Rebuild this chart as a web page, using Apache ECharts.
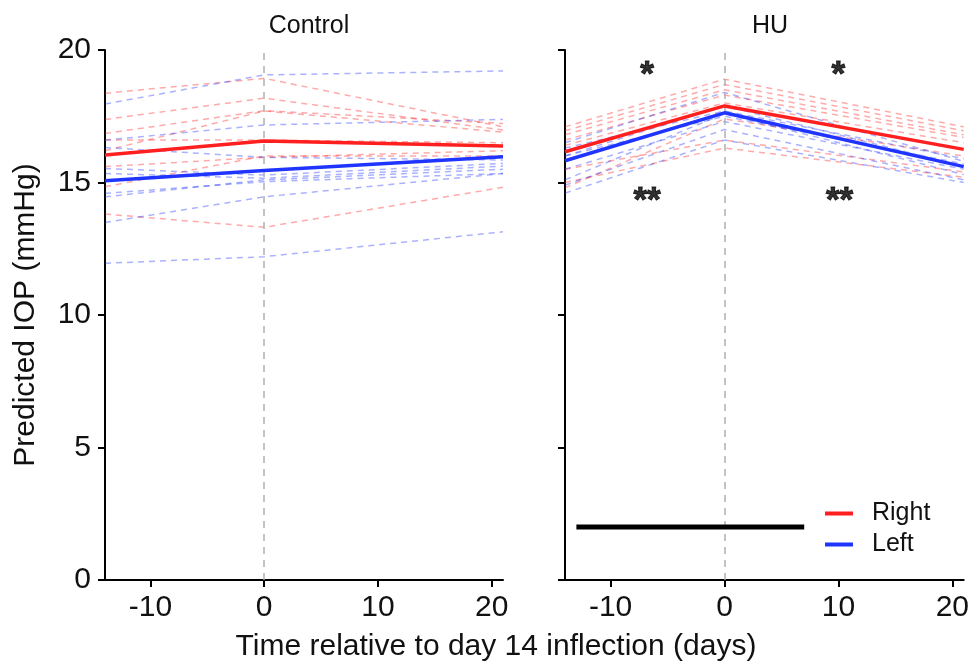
<!DOCTYPE html>
<html>
<head>
<meta charset="utf-8">
<title>Predicted IOP</title>
<script src="https://cdn.jsdelivr.net/npm/echarts@6/dist/echarts.min.js"></script>
<style>
  html, body { margin: 0; padding: 0; background: #fff; }
  #main { width: 972px; height: 667px; }
</style>
</head>
<body>
<div id="main"></div>
<script>
// time points (days relative to day 14 inflection)
var timePoints = [-14, 0, 21];
var xTicks = [-10, 0, 10, 20];

// Control panel: individual eyes (start, day 0, end)
var ctrlRightEyes = [
  [18.37, 18.93, 17.10],
  [17.38, 18.18, 16.98],
  [16.85, 17.71, 17.23],
  [16.20, 17.70, 16.90],
  [16.60, 16.60, 16.50],
  [15.60, 15.95, 16.20],
  [14.84, 16.00, 16.00],
  [13.81, 13.31, 14.82]
];
var ctrlLeftEyes = [
  [17.96, 19.06, 19.21],
  [16.60, 17.17, 17.38],
  [16.32, 15.95, 15.85],
  [15.53, 15.28, 15.72],
  [15.34, 15.16, 15.62],
  [14.59, 15.03, 15.34],
  [14.46, 15.10, 15.50],
  [13.49, 14.46, 15.34],
  [11.95, 12.20, 13.14]
];
var ctrlRightMean = [16.04, 16.57, 16.38];
var ctrlLeftMean = [15.07, 15.45, 15.97];

// HU panel
var huRightEyes = [
  [17.10, 18.90, 17.10],
  [16.95, 18.70, 16.95],
  [16.80, 18.50, 16.80],
  [16.60, 18.30, 16.70],
  [16.40, 18.00, 16.50],
  [15.50, 16.60, 15.40],
  [15.00, 16.30, 15.20],
  [14.80, 17.40, 16.00]
];
var huLeftEyes = [
  [16.50, 18.40, 15.80],
  [16.30, 17.70, 15.90],
  [16.00, 17.50, 15.70],
  [15.50, 17.30, 15.50],
  [15.10, 17.60, 15.30],
  [14.90, 17.00, 15.10],
  [14.60, 16.60, 15.00],
  [16.00, 17.90, 15.60]
];
var huRightMean = [16.16, 17.89, 16.25];
var huLeftMean = [15.82, 17.63, 15.60];

// significance marks and unloading bar
var starMarks = [
  { x: -6.8, y: 19.05, text: '*' },
  { x: 10.0, y: 19.05, text: '*' },
  { x: -6.8, y: 14.28, text: '**' },
  { x: 10.1, y: 14.28, text: '**' }
];
var barStart = -13, barEnd = 7, barLevel = 2;

var RED = '#ff1f1f';
var BLUE = '#1f35ff';
var FONT = 'Liberation Sans';
var TXT = '#111';

function toPoints(vals) {
  return vals.map(function (v, i) { return [timePoints[i], v]; });
}

var series = [];

function addIndividuals(list, color, idx) {
  list.forEach(function (vals) {
    series.push({
      type: 'line',
      xAxisIndex: idx, yAxisIndex: idx,
      data: toPoints(vals),
      symbol: 'none',
      silent: true,
      lineStyle: { color: color, width: 1.5, type: [6, 5], opacity: 0.38 },
      z: 2
    });
  });
}

function addMean(name, vals, color, idx) {
  series.push({
    name: name,
    type: 'line',
    xAxisIndex: idx, yAxisIndex: idx,
    data: toPoints(vals),
    symbol: 'none',
    itemStyle: { color: color },
    lineStyle: { color: color, width: 3.5 },
    z: 5
  });
}

// vertical reference line at day 0
function addZeroLine(idx) {
  series.push({
    type: 'line',
    xAxisIndex: idx, yAxisIndex: idx,
    data: [],
    silent: true,
    markLine: {
      silent: true,
      symbol: 'none',
      label: { show: false },
      lineStyle: { color: '#b0b0b0', type: [7, 6], width: 1.5 },
      data: [{ xAxis: 0 }]
    },
    z: 1
  });
}

addZeroLine(0);
addZeroLine(1);
addIndividuals(ctrlRightEyes, RED, 0);
addIndividuals(ctrlLeftEyes, BLUE, 0);
addIndividuals(huRightEyes, RED, 1);
addIndividuals(huLeftEyes, BLUE, 1);
addMean('Right', ctrlRightMean, RED, 0);
addMean('Left', ctrlLeftMean, BLUE, 0);
addMean('Right', huRightMean, RED, 1);
addMean('Left', huLeftMean, BLUE, 1);

// black bar
series.push({
  type: 'line',
  xAxisIndex: 1, yAxisIndex: 1,
  data: [[barStart, barLevel], [barEnd, barLevel]],
  symbol: 'none',
  silent: true,
  lineStyle: { color: '#000', width: 5 },
  z: 6
});

// stars
series.push({
  type: 'scatter',
  xAxisIndex: 1, yAxisIndex: 1,
  symbolSize: 0,
  silent: true,
  data: starMarks.map(function (s) { return { value: [s.x, s.y], name: s.text }; }),
  label: {
    show: true,
    position: 'inside',
    formatter: function (p) { return p.name; },
    color: '#000',
    textBorderColor: '#000',
    textBorderWidth: 1,
    fontSize: 35,
    fontWeight: 'bold',
    fontFamily: FONT
  },
  z: 7
});

function xAxisCfg(idx) {
  return {
    type: 'value',
    gridIndex: idx,
    min: -14, max: 21,
    axisLine: { onZero: false, lineStyle: { color: '#000', width: 2 } },
    axisTick: { show: true, length: 7, customValues: xTicks, lineStyle: { color: '#000', width: 2 } },
    axisLabel: { customValues: xTicks, color: TXT, fontSize: 30, margin: 13, fontFamily: FONT },
    splitLine: { show: false }
  };
}

function yAxisCfg(idx) {
  return {
    type: 'value',
    gridIndex: idx,
    min: 0, max: 20, interval: 5,
    name: idx === 0 ? 'Predicted IOP (mmHg)' : '',
    nameLocation: 'middle',
    nameGap: 64,
    nameTextStyle: { color: TXT, fontSize: 30, fontFamily: FONT },
    axisLine: { show: true, onZero: false, lineStyle: { color: '#000', width: 2 } },
    axisTick: { show: true, length: 7, lineStyle: { color: '#000', width: 2 } },
    axisLabel: { show: idx === 0, color: TXT, fontSize: 30, margin: 14, fontFamily: FONT },
    splitLine: { show: false }
  };
}

var option = {
  backgroundColor: '#fff',
  animation: false,
  textStyle: { fontFamily: FONT },
  grid: [
    { left: 105, top: 50, width: 398, height: 530 },
    { left: 565, top: 50, width: 399, height: 530 }
  ],
  title: [
    { text: 'Control', left: 304, top: 9, textAlign: 'center',
      textStyle: { fontSize: 25, fontWeight: 'normal', color: TXT, fontFamily: FONT } },
    { text: 'HU', left: 765, top: 9, textAlign: 'center',
      textStyle: { fontSize: 25, fontWeight: 'normal', color: TXT, fontFamily: FONT } },
    { text: 'Time relative to day 14 inflection (days)', left: 491, top: 627, textAlign: 'center',
      textStyle: { fontSize: 30, fontWeight: 'normal', color: TXT, fontFamily: FONT } }
  ],
  legend: {
    data: ['Right', 'Left'],
    orient: 'vertical',
    left: 820, top: 496,
    icon: 'rect',
    itemWidth: 28, itemHeight: 4,
    itemGap: 6,
    textStyle: { fontSize: 25, color: TXT, fontFamily: FONT, padding: [0, 0, 0, 14] }
  },
  xAxis: [xAxisCfg(0), xAxisCfg(1)],
  yAxis: [yAxisCfg(0), yAxisCfg(1)],
  series: series
};

var myChart = echarts.init(document.getElementById('main'));
myChart.setOption(option);
</script>
</body>
</html>
